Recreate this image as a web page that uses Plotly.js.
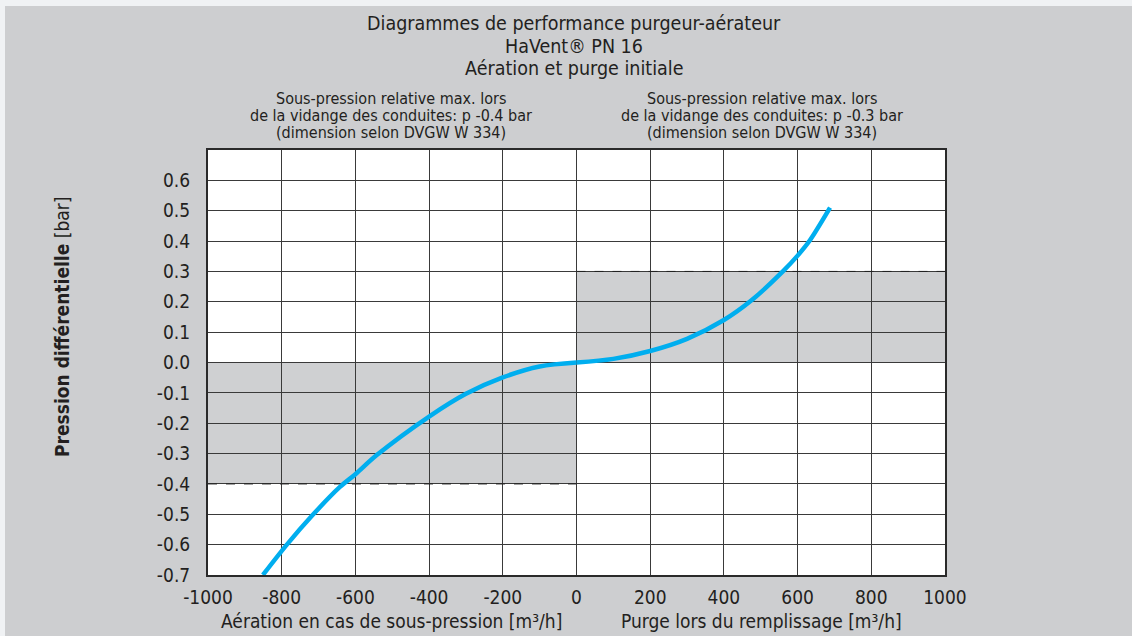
<!DOCTYPE html>
<html>
<head>
<meta charset="utf-8">
<script src="https://cdn.plot.ly/plotly-3.0.1.min.js"></script>
<style>
  html, body { margin: 0; padding: 0; background: #f0f2f4; width: 1132px; height: 636px; overflow: hidden; }
  #chart { position: absolute; left: 5px; top: 6px; width: 1127px; height: 630px; }
</style>
</head>
<body>
<div id="chart"></div>
<script>
// ---- data ----
const aerationFlow = [-851, -786, -718, -642, -600, -542, -400, -300, -200, -100, 0];
const aerationPressure = [-0.7, -0.6, -0.505, -0.41, -0.368, -0.305, -0.178, -0.103, -0.049, -0.013, 0];
const purgeFlow = [0, 100, 200, 300, 400, 475, 560, 600, 632, 688];
const purgePressure = [0, 0.012, 0.038, 0.078, 0.14, 0.205, 0.3, 0.352, 0.4, 0.51];

const xTickValues = [-1000, -800, -600, -400, -200, 0, 200, 400, 600, 800, 1000];
const xTickLabels = ["-1000", "-800", "-600", "-400", "-200", "0", "200", "400", "600", "800", "1000"];
const yTickValues = [-0.7, -0.6, -0.5, -0.4, -0.3, -0.2, -0.1, 0, 0.1, 0.2, 0.3, 0.4, 0.5, 0.6];
const yTickLabels = ["-0.7", "-0.6", "-0.5", "-0.4", "-0.3", "-0.2", "-0.1", "0.0", "0.1", "0.2", "0.3", "0.4", "0.5", "0.6"];

const aerationLimit = -0.4;   // bar, left half
const purgeLimit = 0.3;       // bar, right half

const titleLines = ["Diagrammes de performance purgeur-aérateur", "HaVent® PN 16", "Aération et purge initiale"];
const leftNoteLines = ["Sous-pression relative max. lors", "de la vidange des conduites: p -0.4 bar", "(dimension selon DVGW W 334)"];
const rightNoteLines = ["Sous-pression relative max. lors", "de la vidange des conduites: p -0.3 bar", "(dimension selon DVGW W 334)"];
const xTitleLeft = "Aération en cas de sous-pression [m³/h]";
const xTitleRight = "Purge lors du remplissage [m³/h]";
const yTitle = "<b>Pression différentielle</b> [bar]";

// ---- layout helpers (page pixel -> paper coords) ----
const PL = 208, PR = 945, PT = 150, PB = 575;
const px = x => (x - PL) / (PR - PL);
const py = y => (PB - y) / (PB - PT);

const FONT = "DejaVu Sans Condensed, sans-serif";
const TXT = "#231f20";
const GRID = "#3a3a3a";
const SHADE = "#cfd0d2";

const annotations = [];
const addText = (text, x, y, size, extra) => annotations.push(Object.assign({
  text: text, xref: "paper", yref: "paper", x: px(x), y: py(y),
  xanchor: "center", yanchor: "middle", showarrow: false,
  font: { family: FONT, size: size, color: TXT }
}, extra || {}));

const titleY = [23, 46, 68];
titleLines.forEach((t, i) => addText(t, 574, titleY[i], 19.5));
const noteY = [98, 115, 132];
leftNoteLines.forEach((t, i) => addText(t, 391, noteY[i], 16));
rightNoteLines.forEach((t, i) => addText(t, 762, noteY[i], 16));
addText(xTitleLeft, 391, 621, 19);
addText(xTitleRight, 761, 621, 19);
addText(yTitle, 62, 327, 19, { textangle: -90 });

const traces = [
  { x: aerationFlow, y: aerationPressure, mode: "lines", line: { color: "#00aeef", width: 4.5, shape: "spline", smoothing: 0.9 }, hoverinfo: "skip" },
  { x: purgeFlow, y: purgePressure, mode: "lines", line: { color: "#00aeef", width: 4.5, shape: "spline", smoothing: 0.9 }, hoverinfo: "skip" }
];

const shapes = [
  { type: "rect", xref: "x", yref: "y", x0: -1000, x1: 0, y0: aerationLimit, y1: 0, fillcolor: SHADE, line: { width: 0 }, layer: "below" },
  { type: "rect", xref: "x", yref: "y", x0: 0, x1: 1000, y0: 0, y1: purgeLimit, fillcolor: SHADE, line: { width: 0 }, layer: "below" },
  { type: "line", xref: "x", yref: "y", x0: -1000, x1: 0, y0: aerationLimit, y1: aerationLimit, line: { color: "#222", width: 1, dash: "dash" }, layer: "between" },
  { type: "line", xref: "x", yref: "y", x0: 0, x1: 1000, y0: purgeLimit, y1: purgeLimit, line: { color: "#222", width: 1, dash: "dash" }, layer: "between" }
];

const layout = {
  width: 1127, height: 630,
  margin: { l: PL - 5, r: 1132 - PR, t: PT - 6, b: 636 - PB },
  paper_bgcolor: "#cdced0",
  plot_bgcolor: "#ffffff",
  showlegend: false,
  font: { family: FONT, color: TXT },
  xaxis: {
    range: [-1000, 1000], tickvals: xTickValues, ticktext: xTickLabels,
    showgrid: true, gridcolor: GRID, gridwidth: 1, zeroline: false,
    showline: true, mirror: true, linecolor: "#2a2a2a", linewidth: 2,
    ticks: "", ticklabelstandoff: 4,
    tickfont: { family: FONT, size: 19, color: TXT }, fixedrange: true
  },
  yaxis: {
    range: [-0.7, 0.7], tickvals: yTickValues, ticktext: yTickLabels,
    showgrid: true, gridcolor: GRID, gridwidth: 1, zeroline: false,
    showline: true, mirror: true, linecolor: "#2a2a2a", linewidth: 2,
    ticks: "", ticklabelstandoff: 12,
    tickfont: { family: FONT, size: 19, color: TXT }, fixedrange: true
  },
  shapes: shapes,
  annotations: annotations
};

Plotly.newPlot("chart", traces, layout, { staticPlot: true, displayModeBar: false });
</script>
</body>
</html>
